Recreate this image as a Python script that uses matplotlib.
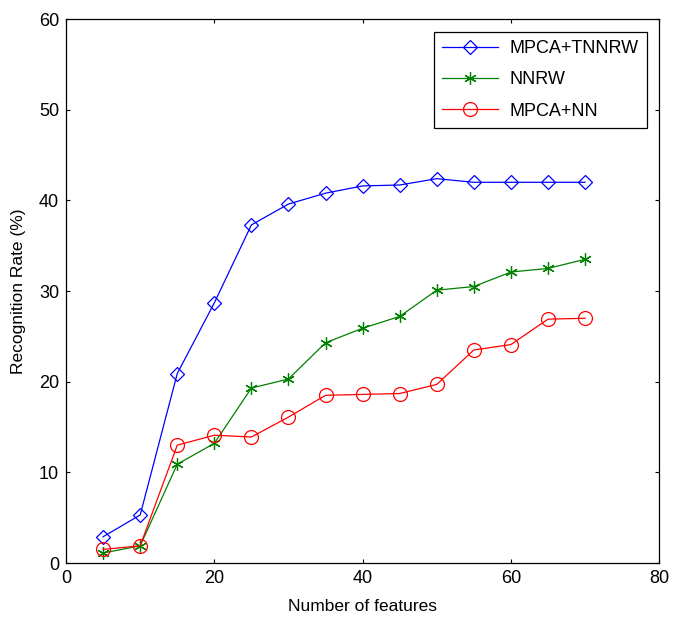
import numpy as np
import matplotlib
matplotlib.use("Agg")
import matplotlib.pyplot as plt

plt.rcParams['font.family'] = ['Liberation Sans', 'DejaVu Sans']

# data
features = [5, 10, 15, 20, 25, 30, 35, 40, 45, 50, 55, 60, 65, 70]
mpca_tnnrw = [2.9, 5.3, 20.9, 28.7, 37.3, 39.6, 40.8, 41.6, 41.7, 42.4, 42.0, 42.0, 42.0, 42.0]
nnrw = [1.1, 1.9, 10.9, 13.2, 19.3, 20.3, 24.3, 25.9, 27.2, 30.1, 30.5, 32.1, 32.5, 33.5]
mpca_nn = [1.5, 1.9, 13.0, 14.1, 13.9, 16.1, 18.5, 18.6, 18.7, 19.7, 23.5, 24.1, 26.9, 27.0]

fig = plt.figure(figsize=(6.74, 6.17), dpi=100)
ax = fig.add_axes([0.098, 0.0875, 0.88, 0.8815])

ax.plot(features, mpca_tnnrw, color='blue', lw=0.9, marker='D', ms=7,
        mfc='none', mec='blue', mew=0.9, label='MPCA+TNNRW')
ax.plot(features, nnrw, color='green', lw=0.9, marker=(6, 2, 0), ms=9,
        mec='green', mew=0.9, label='NNRW')
ax.plot(features, mpca_nn, color='red', lw=0.9, marker='o', ms=10,
        mfc='none', mec='red', mew=0.9, label='MPCA+NN')

ax.set_xlim(0, 80)
ax.set_ylim(0, 60)
ax.set_xticks(np.arange(0, 81, 20))
ax.set_yticks(np.arange(0, 61, 10))
ax.tick_params(direction='in', top=True, right=True, labelsize=13, length=3, pad=5)
for s in ax.spines.values():
    s.set_linewidth(0.9)

ax.set_xlabel('Number of features', fontsize=12.5, labelpad=9)
ax.set_ylabel('Recognition Rate (%)', fontsize=12.5, labelpad=9)

leg = ax.legend(loc='upper right', fontsize=13, fancybox=False, edgecolor='black',
                framealpha=1, handlelength=3.1, borderaxespad=0.7, borderpad=0.45,
                labelspacing=0.8, handletextpad=0.6)
leg.get_frame().set_linewidth(0.9)

fig.savefig('out.png', dpi=100)
